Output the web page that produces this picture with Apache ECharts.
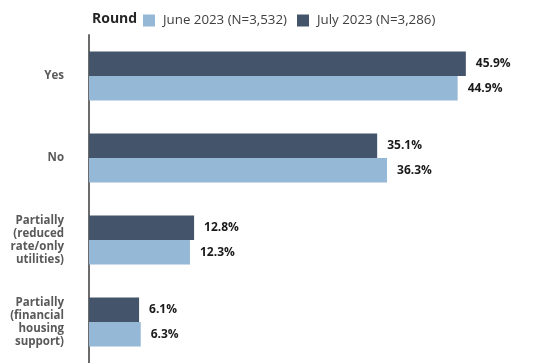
<!DOCTYPE html>
<html>
<head>
<meta charset="utf-8">
<script src="https://cdn.jsdelivr.net/npm/echarts@6/dist/echarts.min.js"></script>
<style>
  html, body { margin: 0; padding: 0; background: #fff; }
  #chart { width: 534px; height: 363px; }
</style>
</head>
<body>
<div id="chart"></div>
<script>
// Response categories, top to bottom
const categories = [
  'Yes',
  'No',
  'Partially\n(reduced\nrate/only\nutilities)',
  'Partially\n(financial\nhousing\nsupport)'
];
// Survey rounds (legend order)
const roundNames = ['June 2023 (N=3,532)', 'July 2023 (N=3,286)'];
// Share of respondents, percent
const june2023 = [44.9, 36.3, 12.3, 6.3];
const july2023 = [45.9, 35.1, 12.8, 6.1];

const colors = { june: '#94B8D5', july: '#44546A' };
const FONT = '"Open Sans", "DejaVu Sans", sans-serif';

const chart = echarts.init(document.getElementById('chart'));

const labelStyle = {
  show: true,
  position: 'right',
  distance: 10,
  formatter: p => p.value.toFixed(1) + '%',
  fontFamily: FONT,
  fontSize: 12,
  fontWeight: 'bold',
  color: '#1a1a1a'
};

chart.setOption({
  animation: false,
  textStyle: { fontFamily: FONT },
  title: {
    text: 'Round',
    left: 87,
    top: 7,
    textStyle: { fontFamily: FONT, fontSize: 14, fontWeight: 'bold', color: '#262626' }
  },
  legend: {
    data: roundNames,
    left: 138,
    top: 9,
    itemWidth: 12,
    itemHeight: 12,
    itemGap: 10,
    icon: 'rect',
    textStyle: { fontFamily: FONT, fontSize: 13.3, color: '#404040', padding: [0, 0, 0, 3] }
  },
  grid: { left: 89, top: 35, width: 410.5, height: 334 },
  xAxis: {
    type: 'value',
    min: 0,
    max: 50,
    show: false
  },
  yAxis: {
    type: 'category',
    data: categories,
    inverse: true,
    axisLine: { show: true, lineStyle: { color: '#6b6b6b', width: 2 } },
    axisTick: { show: false },
    axisLabel: {
      margin: 25,
      fontFamily: FONT,
      fontSize: 11.5,
      fontWeight: 'bold',
      lineHeight: 13,
      color: '#595959',
      align: 'right'
    }
  },
  // July listed first so it sits above June within each band on the inverted axis
  series: [
    {
      name: roundNames[1],
      type: 'bar',
      data: july2023,
      barWidth: 24.5,
      barGap: '0%',
      itemStyle: { color: colors.july },
      label: labelStyle
    },
    {
      name: roundNames[0],
      type: 'bar',
      data: june2023,
      barWidth: 24.5,
      barGap: '0%',
      itemStyle: { color: colors.june },
      label: labelStyle
    }
  ]
});
</script>
</body>
</html>
